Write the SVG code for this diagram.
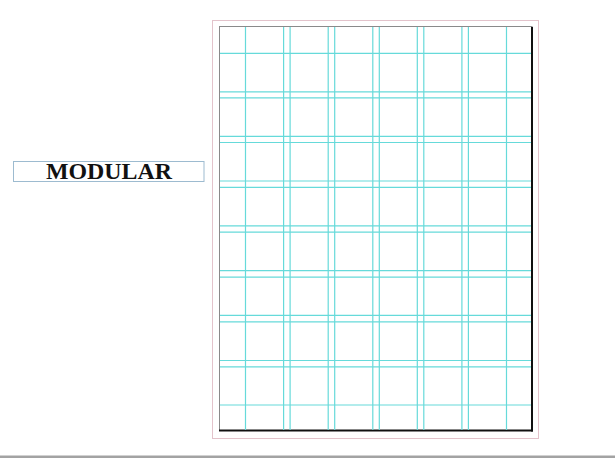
<svg xmlns="http://www.w3.org/2000/svg" width="615" height="458" viewBox="0 0 615 458">
  <style>
    .guide { stroke: #66dada; stroke-width: 1.2; fill: none; }
    .label { font-family: "Liberation Serif", "Times New Roman", serif; font-weight: bold; font-size: 23px; fill: #111; }
  </style>
  <rect width="615" height="458" fill="#ffffff"/>
  <g id="label-modular">
    <rect x="13.5" y="161.5" width="190.5" height="20" fill="none" stroke="#9dbbd0" stroke-width="1"/>
    <text class="label" x="109" y="179" text-anchor="middle" textLength="126" lengthAdjust="spacingAndGlyphs">MODULAR</text>
  </g>
  <g id="bleed">
    <rect x="212.5" y="20.5" width="326" height="418" fill="none" stroke="#e3c3cb" stroke-width="1"/>
  </g>
  <g id="page">
    <rect x="219.5" y="26.5" width="312.5" height="404" fill="#ffffff" stroke="#8a8a8a" stroke-width="1"/>
    <line x1="532" y1="27" x2="532" y2="431.5" stroke="#111" stroke-width="2"/>
    <line x1="219" y1="430.5" x2="533" y2="430.5" stroke="#111" stroke-width="2"/>
  </g>
  <g id="grid">
    <g id="columns" class="guide">
      <line x1="245.5" y1="27" x2="245.5" y2="430"/>
      <line x1="283.6" y1="27" x2="283.6" y2="430"/>
      <line x1="290.1" y1="27" x2="290.1" y2="430"/>
      <line x1="328.2" y1="27" x2="328.2" y2="430"/>
      <line x1="334.7" y1="27" x2="334.7" y2="430"/>
      <line x1="372.8" y1="27" x2="372.8" y2="430"/>
      <line x1="379.3" y1="27" x2="379.3" y2="430"/>
      <line x1="417.3" y1="27" x2="417.3" y2="430"/>
      <line x1="423.8" y1="27" x2="423.8" y2="430"/>
      <line x1="461.9" y1="27" x2="461.9" y2="430"/>
      <line x1="468.4" y1="27" x2="468.4" y2="430"/>
      <line x1="506.5" y1="27" x2="506.5" y2="430"/>
    </g>
    <g id="rows" class="guide">
      <line x1="220" y1="53.3" x2="531" y2="53.3"/>
      <line x1="220" y1="91.8" x2="531" y2="91.8"/>
      <line x1="220" y1="97.8" x2="531" y2="97.8"/>
      <line x1="220" y1="136.3" x2="531" y2="136.3"/>
      <line x1="220" y1="142.5" x2="531" y2="142.5"/>
      <line x1="220" y1="181" x2="531" y2="181"/>
      <line x1="220" y1="187.3" x2="531" y2="187.3"/>
      <line x1="220" y1="225.9" x2="531" y2="225.9"/>
      <line x1="220" y1="232.2" x2="531" y2="232.2"/>
      <line x1="220" y1="270.7" x2="531" y2="270.7"/>
      <line x1="220" y1="277.2" x2="531" y2="277.2"/>
      <line x1="220" y1="315.4" x2="531" y2="315.4"/>
      <line x1="220" y1="321.9" x2="531" y2="321.9"/>
      <line x1="220" y1="360.5" x2="531" y2="360.5"/>
      <line x1="220" y1="366.9" x2="531" y2="366.9"/>
      <line x1="220" y1="405" x2="531" y2="405"/>
    </g>
  </g>
  <g id="baseline-rule">
    <rect x="0" y="455.5" width="615" height="2.5" fill="#a3a3a3"/>
  </g>
</svg>
